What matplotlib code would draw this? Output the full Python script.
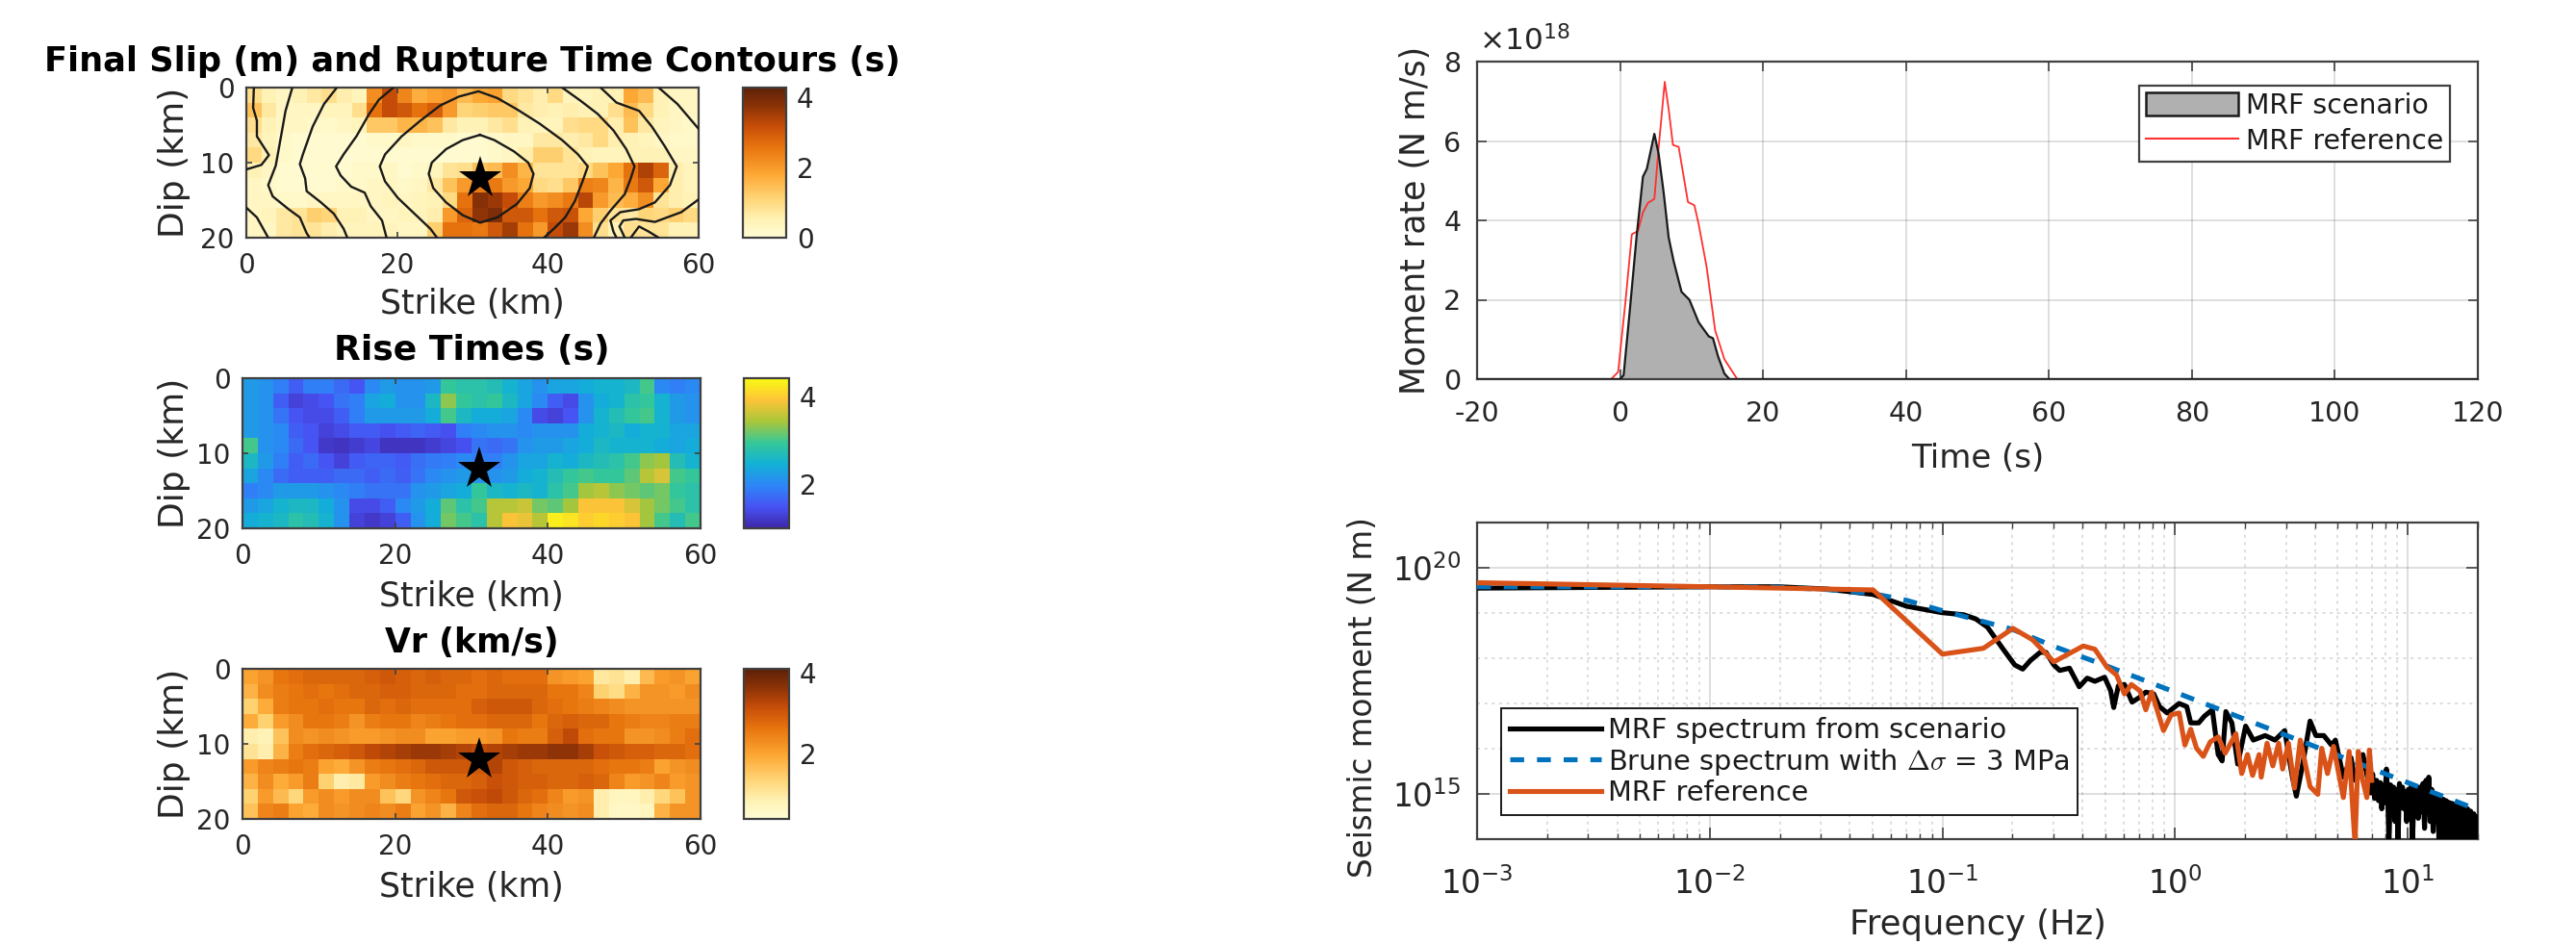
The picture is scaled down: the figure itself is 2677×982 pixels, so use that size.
import numpy as np
import matplotlib
matplotlib.use('Agg')
import matplotlib.pyplot as plt
from matplotlib.colors import LinearSegmentedColormap
from matplotlib.lines import Line2D
from matplotlib.patches import Patch
from matplotlib.ticker import NullFormatter

W, H = 2677, 982

# slip in m, one row per 2 km of dip, one column per 2 km of strike
slip = [
    [0.9, 0.5, 0.3, 0.5, 0.7, 0.9, 0.6, 0.4, 2.2, 3.2, 2.3, 1.7, 1.9, 2.0, 1.5, 1.8, 1.9, 1.0, 0.8, 0.6, 1.0, 0.4, 0.4, 0.5, 0.5, 1.8, 1.5, 0.5, 0.3, 0.3],
    [1.4, 0.7, 0.3, 0.3, 0.3, 0.4, 0.4, 0.9, 2.6, 3.2, 3.0, 2.6, 2.9, 2.0, 1.1, 1.2, 1.3, 1.3, 0.7, 0.6, 0.5, 0.6, 0.5, 0.5, 0.9, 1.5, 1.0, 0.5, 0.3, 0.3],
    [0.9, 0.5, 0.3, 0.3, 0.2, 0.2, 0.3, 0.4, 1.3, 1.3, 1.6, 1.6, 1.4, 0.7, 0.5, 0.5, 0.7, 0.9, 0.5, 0.4, 0.4, 0.9, 1.0, 1.0, 0.6, 1.4, 0.7, 0.4, 0.3, 0.2],
    [0.7, 0.4, 0.2, 0.1, 0.1, 0.1, 0.1, 0.1, 0.2, 0.2, 0.3, 0.2, 0.2, 0.2, 0.1, 0.1, 0.2, 0.3, 0.3, 0.7, 0.7, 0.6, 0.7, 1.0, 0.6, 0.5, 0.4, 0.3, 0.2, 0.2],
    [1.0, 0.5, 0.2, 0.1, 0.1, 0.1, 0.1, 0.1, 0.1, 0.1, 0.1, 0.1, 0.1, 0.1, 0.1, 0.1, 0.2, 0.3, 0.6, 1.2, 1.2, 0.8, 0.5, 0.4, 0.4, 0.5, 0.5, 0.5, 0.3, 0.3],
    [0.5, 0.3, 0.1, 0.1, 0.1, 0.1, 0.1, 0.2, 0.2, 0.3, 0.1, 0.2, 0.4, 0.8, 0.9, 1.4, 1.5, 2.2, 1.6, 0.8, 0.8, 0.8, 1.0, 1.4, 1.8, 2.6, 3.4, 2.8, 0.6, 0.4],
    [0.3, 0.2, 0.1, 0.1, 0.1, 0.1, 0.2, 0.2, 0.3, 0.3, 0.2, 0.3, 0.7, 1.4, 2.0, 2.5, 2.5, 2.0, 1.8, 1.0, 0.9, 1.3, 2.4, 2.3, 1.6, 2.5, 3.0, 1.8, 0.6, 0.4],
    [0.3, 0.3, 0.2, 0.2, 0.3, 0.3, 0.3, 0.3, 0.3, 0.4, 0.3, 0.4, 0.5, 1.0, 2.6, 3.8, 3.6, 3.2, 2.4, 2.0, 2.2, 2.5, 3.3, 2.0, 1.5, 1.7, 2.2, 0.8, 0.6, 0.5],
    [0.3, 0.4, 0.7, 0.8, 1.2, 1.1, 0.5, 0.5, 0.3, 0.3, 0.4, 0.4, 0.6, 2.0, 2.8, 3.7, 3.9, 3.0, 3.0, 2.6, 3.0, 3.1, 1.8, 1.2, 0.8, 0.7, 1.1, 1.0, 1.2, 1.0],
    [0.3, 0.3, 0.7, 0.8, 0.8, 0.6, 0.4, 0.4, 0.4, 0.4, 0.3, 0.3, 1.2, 2.6, 2.6, 2.5, 3.0, 3.5, 2.6, 2.0, 3.2, 3.6, 2.2, 0.9, 0.5, 0.9, 0.8, 0.8, 0.5, 0.5],
]

rise = [
    [2.2, 2.1, 1.9, 1.6, 1.9, 1.9, 1.7, 1.5, 2.0, 2.2, 2.1, 2.1, 2.2, 2.9, 2.8, 2.8, 2.7, 2.5, 2.3, 2.1, 2.3, 2.3, 2.4, 2.5, 2.5, 2.6, 3.0, 2.0, 1.9, 2.0],
    [2.2, 2.1, 1.6, 1.3, 1.4, 1.5, 1.8, 1.9, 2.3, 2.4, 2.1, 2.1, 2.6, 3.3, 2.9, 2.8, 2.9, 2.6, 2.3, 2.0, 1.6, 1.4, 2.1, 2.4, 2.5, 2.8, 2.9, 2.5, 2.2, 2.1],
    [2.2, 2.1, 1.8, 1.5, 1.4, 1.4, 1.6, 1.9, 2.2, 2.2, 2.2, 2.2, 2.4, 3.0, 2.6, 2.4, 2.4, 2.3, 2.0, 1.4, 1.3, 1.5, 2.1, 2.5, 2.7, 2.9, 3.0, 2.5, 2.2, 2.1],
    [2.2, 2.1, 2.0, 1.6, 1.5, 1.3, 1.4, 1.55, 1.55, 1.45, 1.55, 1.65, 1.55, 1.45, 1.9, 2.0, 2.1, 2.1, 2.0, 2.1, 2.1, 2.1, 2.4, 2.5, 2.6, 2.4, 2.5, 2.5, 2.3, 2.3],
    [3.0, 2.1, 2.0, 1.7, 1.5, 1.2, 1.15, 1.25, 1.35, 1.15, 1.15, 1.15, 1.25, 1.35, 1.45, 1.8, 1.7, 1.8, 2.1, 2.2, 2.2, 2.3, 2.4, 2.6, 2.5, 2.5, 2.5, 2.4, 2.3, 2.4],
    [2.6, 2.2, 1.9, 1.6, 1.7, 1.5, 1.3, 1.55, 1.65, 1.65, 1.55, 1.75, 1.85, 1.9, 2.0, 1.9, 1.9, 2.1, 2.3, 2.3, 2.5, 2.4, 2.6, 2.7, 2.8, 3.0, 3.3, 3.4, 2.7, 2.5],
    [2.3, 2.0, 1.7, 1.6, 1.6, 1.6, 1.7, 1.7, 1.6, 1.7, 1.6, 1.8, 2.0, 2.1, 2.2, 2.1, 2.1, 2.2, 2.4, 2.5, 2.7, 2.9, 3.0, 2.9, 2.9, 3.1, 3.5, 3.7, 3.0, 2.9],
    [1.9, 2.0, 2.2, 2.2, 2.2, 2.1, 2.0, 1.9, 1.8, 1.8, 1.8, 2.1, 2.2, 2.3, 2.4, 2.9, 2.6, 2.5, 2.6, 2.5, 2.8, 3.0, 3.4, 3.5, 3.3, 3.2, 3.1, 3.2, 2.9, 2.8],
    [2.2, 2.3, 2.5, 2.6, 2.6, 2.4, 2.1, 1.4, 1.4, 1.6, 2.0, 2.2, 2.4, 3.1, 2.8, 3.0, 3.5, 3.5, 3.6, 3.2, 3.1, 3.4, 3.9, 3.9, 3.9, 3.7, 3.4, 3.2, 3.0, 2.8],
    [2.4, 2.5, 2.6, 2.8, 2.7, 2.5, 2.1, 1.3, 1.2, 1.3, 1.6, 2.1, 2.4, 3.2, 3.0, 2.8, 3.5, 3.9, 3.8, 3.5, 4.3, 4.2, 4.0, 4.1, 4.0, 3.9, 3.4, 3.0, 2.7, 3.0],
]

vr = [
    [2.0, 2.2, 2.6, 2.7, 2.8, 2.8, 2.8, 2.8, 2.9, 3.0, 2.9, 2.8, 2.9, 2.8, 2.8, 2.7, 2.8, 2.7, 2.7, 2.7, 2.2, 2.1, 2.0, 1.0, 1.1, 0.9, 1.7, 2.1, 2.2, 2.0],
    [1.8, 2.3, 2.5, 2.6, 2.7, 2.6, 2.7, 2.8, 2.8, 2.9, 2.9, 2.8, 2.8, 2.8, 2.7, 2.7, 2.8, 2.8, 2.8, 2.8, 2.6, 2.6, 2.4, 1.4, 1.2, 1.8, 2.2, 2.2, 2.1, 2.3],
    [1.4, 1.9, 2.5, 2.6, 2.6, 2.7, 2.6, 2.6, 2.8, 2.7, 2.8, 2.7, 2.7, 2.7, 2.7, 2.9, 3.0, 3.0, 3.0, 2.8, 2.7, 2.6, 2.5, 2.4, 2.3, 2.2, 2.2, 2.2, 2.2, 2.2],
    [1.9, 1.4, 2.1, 2.3, 2.6, 2.6, 2.5, 2.2, 2.5, 2.6, 2.6, 2.4, 2.5, 2.6, 2.7, 2.7, 2.8, 2.8, 2.8, 2.6, 2.8, 2.9, 2.8, 2.8, 2.6, 2.5, 2.4, 2.4, 2.5, 2.5],
    [0.9, 0.8, 1.6, 2.3, 2.2, 2.3, 2.2, 2.1, 2.1, 2.2, 2.3, 2.3, 2.0, 2.0, 2.1, 2.1, 2.2, 2.6, 2.5, 2.5, 2.9, 3.2, 2.7, 2.6, 2.6, 2.2, 2.2, 2.3, 2.5, 2.7],
    [1.1, 0.9, 1.8, 2.5, 2.7, 2.8, 2.9, 3.0, 3.2, 3.3, 3.4, 3.5, 3.5, 3.4, 3.3, 3.2, 3.3, 3.4, 3.5, 3.5, 3.6, 3.6, 3.4, 3.1, 3.0, 2.9, 2.9, 2.8, 2.8, 2.7],
    [2.1, 2.4, 2.5, 2.6, 2.5, 2.0, 1.9, 2.2, 2.5, 2.6, 2.7, 2.8, 3.0, 3.0, 3.0, 3.0, 3.3, 3.0, 2.9, 2.8, 2.8, 2.8, 2.8, 2.7, 2.6, 2.6, 2.5, 2.0, 2.2, 2.3],
    [1.8, 2.3, 1.9, 2.1, 2.5, 1.4, 0.9, 1.0, 2.1, 2.3, 2.5, 2.6, 2.7, 2.8, 2.8, 2.9, 3.1, 3.0, 2.9, 2.9, 2.8, 2.8, 2.9, 2.8, 2.4, 2.1, 2.2, 2.4, 2.1, 2.2],
    [1.4, 2.1, 1.7, 1.3, 2.1, 2.3, 2.1, 2.3, 2.3, 1.6, 1.3, 2.2, 2.4, 2.6, 3.0, 3.1, 3.2, 3.0, 2.8, 2.7, 2.4, 2.1, 2.2, 0.9, 0.7, 0.7, 0.9, 1.3, 1.6, 2.2],
    [1.6, 2.4, 2.5, 2.0, 1.9, 2.3, 2.2, 2.3, 2.4, 2.3, 2.5, 2.0, 2.2, 1.8, 2.4, 2.7, 2.8, 2.8, 2.6, 2.4, 2.3, 2.2, 2.3, 0.9, 0.6, 0.6, 0.7, 1.8, 2.2, 2.2],
]

# rupture time contours, (strike km, dip km)
contours = [
    ([31.0, 28.7, 26.5, 24.6, 24.2, 24.8, 26.5, 28.7, 31.0, 33.3, 35.9, 37.6, 38.1, 37.4, 35.5, 32.9, 31.0],
     [6.3, 7.0, 8.2, 10.0, 11.5, 13.4, 15.3, 17.0, 18.0, 17.3, 15.5, 13.4, 11.5, 10.0, 8.5, 7.0, 6.3]),
    ([25.3, 24.4, 22.3, 20.1, 18.4, 17.7, 18.4, 20.6, 23.1, 25.7, 28.2, 30.8, 33.3, 35.9, 38.9, 41.9, 44.0, 45.3, 44.6, 43.6, 42.3, 40.8, 39.5],
     [20.0, 18.8, 16.8, 14.7, 12.5, 10.5, 8.9, 6.5, 4.4, 2.4, 1.2, 0.5, 1.4, 2.9, 4.8, 7.0, 8.9, 10.5, 12.5, 15.1, 17.3, 18.8, 20.0]),
    ([19.5, 17.6, 16.3, 14.6, 12.9, 11.9, 12.5, 13.9, 15.7, 16.5, 18.0, 18.6],
     [0.0, 1.6, 3.5, 6.5, 8.9, 10.5, 11.7, 13.2, 14.0, 15.8, 17.7, 20.0]),
    ([41.9, 44.4, 46.6, 48.7, 50.4, 51.5, 51.0, 50.2, 48.3, 47.0, 46.1],
     [0.0, 1.8, 3.5, 5.7, 8.2, 10.5, 12.1, 14.2, 16.4, 18.1, 20.0]),
    ([12.0, 10.3, 8.8, 7.5, 7.1, 7.8, 8.0, 9.9, 11.6, 12.9, 13.4],
     [0.0, 2.2, 5.2, 8.9, 10.2, 12.1, 13.8, 15.3, 16.8, 18.8, 20.0]),
    ([6.1, 5.2, 4.6, 3.9, 2.9, 3.5, 5.6, 7.1, 8.0, 8.4],
     [0.0, 3.1, 6.5, 10.4, 13.0, 14.5, 16.2, 17.3, 19.4, 20.0]),
    ([1.0, 0.9, 1.4, 1.4, 3.0, 2.0, 0.0],
     [0.0, 2.7, 4.4, 6.5, 9.0, 10.3, 10.9]),
    ([0.0, 1.4, 2.9],
     [16.0, 17.3, 20.0]),
    ([47.0, 49.1, 52.1, 53.8, 55.5, 57.1, 56.2, 54.2, 52.1, 49.6, 48.3, 48.7, 49.1],
     [0.0, 2.0, 3.1, 5.2, 7.8, 10.5, 13.0, 15.3, 16.2, 16.6, 17.7, 19.2, 20.0]),
    ([54.7, 57.2, 60.0],
     [0.0, 2.2, 5.5]),
    ([60.0, 57.7, 54.2, 51.7, 50.0, 49.5, 50.2],
     [14.9, 16.6, 17.9, 17.5, 17.7, 18.5, 20.0]),
    ([51.0, 52.1, 53.4, 54.7],
     [20.0, 18.5, 19.2, 20.0]),
]

hypo_strike = 31
hypo_dip = 12

# moment rate, in 1e18 N m/s
t_scenario = [-20, 0, 0.5, 1.4, 2.3, 3.2, 3.75, 4.8, 5.4, 6.1, 6.8, 7.5, 8.6, 9.7, 11, 12.4, 13, 13.7, 14.6, 15.3, 120]
mrf_scenario = [0, 0, 0.1, 1.8, 3.57, 5.1, 5.3, 6.18, 5.67, 4.7, 3.57, 2.97, 2.2, 2.0, 1.43, 1.08, 1.03, 0.58, 0.14, 0, 0]
t_reference = [-1.25, -0.27, 0.76, 1.65, 2.5, 3.2, 3.9, 4.8, 5.4, 6.25, 6.8, 7.4, 8.2, 9.5, 10.4, 11, 12.1, 13.3, 14.6, 16.4, 18.4]
mrf_reference = [0, 0.18, 1.96, 3.65, 3.73, 4.2, 4.44, 4.54, 5.83, 7.49, 6.8, 5.9, 5.85, 4.46, 4.38, 3.9, 2.84, 1.23, 0.5, 0, 0]

# spectra, log10 of frequency and log10 of moment
logf_brune = [-3, -2, -1.7, -1.5, -1.3, -1.154, -1, -0.7, -0.52, -0.3, 0, 0.3, 0.7, 1, 1.3]
logm_brune = [19.58, 19.58, 19.57, 19.52, 19.43, 19.28, 19.05, 18.64, 18.26, 17.84, 17.25, 16.65, 15.85, 15.25, 14.65]

logf_scen_low = [-3, -2, -1.703, -1.497, -1.298, -1.154, -1.005, -0.908, -0.857, -0.807, -0.739, -0.689, -0.655, -0.622, -0.58, -0.555,
                 -0.521, -0.496, -0.454, -0.412, -0.378, -0.345, -0.303, -0.277, -0.264, -0.244, -0.218, -0.185, -0.151, -0.126, -0.092,
                 -0.067, -0.034, 0.017, 0.05, 0.067, 0.101, 0.126, 0.16, 0.185, 0.202, 0.218, 0.244, 0.269, 0.303, 0.336, 0.387, 0.429,
                 0.471, 0.504, 0.521, 0.546, 0.58, 0.605, 0.639, 0.672, 0.689, 0.723, 0.756, 0.773, 0.807, 0.84]
logm_scen_low = [19.55, 19.58, 19.58, 19.53, 19.41, 19.15, 19.01, 18.96, 18.87, 18.69, 18.2, 17.85, 17.76, 17.95, 18.13, 18.13,
                 17.85, 17.73, 17.78, 17.37, 17.56, 17.49, 17.58, 17.28, 16.91, 17.39, 17.42, 17.03, 17.14, 17.25, 17.21,
                 16.93, 16.79, 17.0, 16.93, 16.57, 16.57, 16.72, 16.86, 15.87, 15.73, 16.82, 16.57, 15.66, 16.5, 16.19, 16.29, 16.19,
                 16.4, 15.37, 14.95, 15.59, 16.61, 16.29, 16.29, 16.08, 16.19, 15.37, 15.8, 15.3, 15.87, 15.02]
logf_scen_mid = [0.849, 0.857, 0.866, 0.874, 0.882, 0.888, 0.894, 0.901, 0.908, 0.914, 0.919, 0.926, 0.933, 0.939, 0.945, 0.952,
                 0.958, 0.964, 0.97, 0.977, 0.983, 0.989, 0.995, 1.002, 1.008, 1.014, 1.02, 1.027, 1.034, 1.04, 1.045, 1.052,
                 1.059, 1.065, 1.072, 1.078, 1.084, 1.09, 1.096, 1.103, 1.109, 1.116, 1.123]
logm_scen_mid = [15.44, 14.9, 15.3, 14.85, 15.25, 14.67, 15.2, 14.8, 15.55, 14.9, 13.9, 15.2, 14.7, 15.15, 14.39, 15.1,
                 13.9, 15.23, 14.7, 15.15, 14.67, 15.05, 14.39, 15.1, 14.7, 15.16, 13.9, 15.1, 14.6, 15.09, 14.46, 15.15,
                 14.6, 15.23, 14.24, 15.3, 14.7, 15.37, 14.39, 15.1, 14.17, 15.0, 14.5]
logf_scen_high = [1.129, 1.134, 1.14, 1.146, 1.153, 1.16, 1.165, 1.171, 1.178, 1.185, 1.191, 1.197, 1.203, 1.21, 1.217,
                  1.224, 1.23, 1.237, 1.243, 1.25, 1.257, 1.264, 1.27, 1.277, 1.284, 1.291, 1.297]
logm_scen_high = [14.95, 13.9, 14.9, 13.9, 14.88, 13.9, 14.85, 13.9, 14.81, 13.9, 14.79, 13.9, 14.77, 13.9, 14.75,
                  13.9, 14.74, 13.9, 14.7, 13.9, 14.67, 13.9, 14.62, 13.9, 14.56, 13.9, 14.49]

logf_ref = [-3, -2, -1.497, -1.298, -1, -0.824, -0.697, -0.613, -0.521, -0.395, -0.345, -0.294, -0.252, -0.218, -0.188, -0.151,
            -0.126, -0.101, -0.05, -0.017, 0.017, 0.042, 0.067, 0.092, 0.121, 0.151, 0.185, 0.215, 0.261, 0.286, 0.311, 0.333,
            0.361, 0.37, 0.395, 0.42, 0.445, 0.462, 0.487, 0.513, 0.538, 0.58, 0.613, 0.63, 0.655, 0.681, 0.706, 0.723, 0.748,
            0.773, 0.787, 0.803, 0.824, 0.835, 0.845]
logm_ref = [19.67, 19.58, 19.53, 19.51, 18.09, 18.22, 18.66, 18.41, 17.92, 18.27, 18.2, 17.81, 17.63, 17.21, 17.42, 17.28,
            16.86, 17.25, 16.4, 16.75, 16.79, 16.08, 16.43, 16.01, 15.83, 16.15, 16.26, 15.9, 16.33, 15.45, 15.87, 15.41,
            15.87, 15.37, 16.12, 15.62, 16.12, 15.55, 16.12, 15.13, 16.19, 15.16, 14.99, 16.01, 15.45, 16.05, 15.37, 14.92, 15.94,
            13.9, 15.94, 15.37, 14.92, 15.97, 15.3]

parula_colors = [(0.2422, 0.1504, 0.6603), (0.2810, 0.3228, 0.9579), (0.1786, 0.5289, 0.9682), (0.0689, 0.6948, 0.8394),
                 (0.2161, 0.7843, 0.5923), (0.6720, 0.7793, 0.2227), (0.9970, 0.7659, 0.2199), (0.9769, 0.9839, 0.0805)]
parula = LinearSegmentedColormap.from_list('parula', parula_colors)
hot_r = LinearSegmentedColormap.from_list('slipcmap', [(0, '#FFFCD5'), (0.12, '#FFF2B5'), (0.25, '#FFD77A'), (0.42, '#FDA835'),
                                                       (0.6, '#E8750F'), (0.75, '#C44C08'), (0.88, '#8A3207'), (1, '#5C2108')])

TXT = '#262626'
BOX = '#404040'
plt.rcParams['font.family'] = 'DejaVu Sans'
plt.rcParams['mathtext.fontset'] = 'dejavusans'
plt.rcParams['axes.edgecolor'] = BOX
plt.rcParams['axes.linewidth'] = 1.6
plt.rcParams['axes.unicode_minus'] = False


def px_axes(fig, left, top, right, bottom):
    return fig.add_axes([left / W, 1 - bottom / H, (right - left) / W, (bottom - top) / H])


def heat_panel(fig, box, cbox, data, cmap, vmin, vmax, cticks, title, title_size, pad, xlab_y):
    ax = px_axes(fig, *box)
    im = ax.imshow(np.array(data), cmap=cmap, vmin=vmin, vmax=vmax, extent=(0, 60, 20, 0),
                   aspect='auto', interpolation='nearest')
    ax.plot(hypo_strike, hypo_dip, marker='*', color='k', ms=33, mew=0, zorder=5)
    ax.set_xticks([0, 20, 40, 60])
    ax.set_yticks([0, 10, 20])
    ax.tick_params(direction='in', top=True, right=True, length=4, width=1.2, labelsize=20,
                   labelcolor=TXT, color=BOX)
    ax.tick_params(axis='x', pad=11)
    ax.tick_params(axis='y', pad=9)
    ax.set_title(title, fontsize=title_size, fontweight='bold', color='k', pad=pad)
    ax.set_xlabel('Strike (km)', fontsize=25, color=TXT, va='center')
    ax.xaxis.set_label_coords(0.5, (box[3] - xlab_y) / (box[3] - box[1]))
    ax.set_ylabel('Dip (km)', fontsize=26, color=TXT, va='center')
    ax.yaxis.set_label_coords((181 - box[0]) / (box[2] - box[0]), 0.5)
    cax = px_axes(fig, *cbox)
    cb = fig.colorbar(im, cax=cax, ticks=cticks)
    cb.ax.tick_params(length=0, labelsize=20, labelcolor=TXT, pad=8)
    cb.outline.set_edgecolor(BOX)
    cb.outline.set_linewidth(1.6)
    return ax


fig = plt.figure(figsize=(W / 100, H / 100), dpi=100)

ax1 = heat_panel(fig, (256, 91, 726, 247), (772, 91, 817, 247), slip, hot_r, 0, 4.27, [0, 2, 4],
                 'Final Slip (m) and Rupture Time Contours (s)', 25.3, 12, 316)
for xs, ys in contours:
    ax1.plot(xs, ys, color='#1a1a1a', lw=1.7, solid_joinstyle='round', zorder=4)
ax1.set_xlim(0, 60)
ax1.set_ylim(20, 0)

heat_panel(fig, (252, 393, 728, 549), (773, 393, 820, 549), rise, parula, 0.985, 4.41, [2, 4], 'Rise Times (s)', 26, 14, 620)
heat_panel(fig, (252, 695, 728, 851), (773, 695, 820, 851), vr, hot_r, 0.39, 4.09, [2, 4], 'Vr (km/s)', 25, 12, 922)

# moment rate function
ax4 = px_axes(fig, 1535, 64, 2575, 394)
ax4.fill_between(t_scenario, mrf_scenario, 0, facecolor='#B0B0B0', edgecolor='none', zorder=2)
ax4.plot(t_reference, mrf_reference, color='#FF3030', lw=1.3, zorder=3)
ax4.plot(t_scenario, mrf_scenario, color='#1a1a1a', lw=1.6, zorder=4)
ax4.set_xlim(-20, 120)
ax4.set_ylim(0, 8)
ax4.set_xticks(range(-20, 121, 20))
ax4.set_yticks([0, 2, 4, 6, 8])
ax4.grid(True, color='#262626', alpha=0.15, lw=1.4)
ax4.set_axisbelow(True)
ax4.tick_params(direction='in', top=True, right=True, length=7, width=1.2, labelsize=20.5,
                labelcolor=TXT, color=BOX)
ax4.tick_params(axis='x', pad=16)
ax4.tick_params(axis='y', pad=12)
ax4.set_xlabel('Time (s)', fontsize=24.5, color=TXT, va='center')
ax4.xaxis.set_label_coords(0.5, (394 - 476) / 330)
ax4.set_ylabel('Moment rate (N m/s)', fontsize=25, color=TXT, va='center')
ax4.yaxis.set_label_coords((1471 - 1535) / 1040, 0.5)
ax4.text(1537 / W, 1 - 58 / H, r'$\times 10^{18}$', transform=fig.transFigure, fontsize=22.5, color=TXT, va='bottom')
leg4 = ax4.legend([Patch(facecolor='#B0B0B0', edgecolor='#1a1a1a', lw=1.8), Line2D([0], [0], color='#FF3030', lw=1.5)],
                  ['MRF scenario', 'MRF reference'], loc='upper left',
                  bbox_to_anchor=((2223 - 1535) / 1040, (394 - 89) / 330), fontsize=20.4, fancybox=False, framealpha=1,
                  edgecolor=BOX, borderaxespad=0, handlelength=3.4, handleheight=0.93, handletextpad=0.25,
                  borderpad=0.25, labelspacing=0.3, labelcolor='#1a1a1a')
leg4.get_frame().set_linewidth(1.6)

# spectra
logf_scen = np.array(logf_scen_low + logf_scen_mid + logf_scen_high)
logm_scen = np.array(logm_scen_low + logm_scen_mid + logm_scen_high)
ax5 = px_axes(fig, 1535, 543, 2575, 872)
ax5.plot(10 ** logf_scen, 10 ** logm_scen, color='k', lw=3.7, label='MRF spectrum from scenario', zorder=3)
ax5.plot(10 ** np.array(logf_brune), 10 ** np.array(logm_brune), color='#0072BD', lw=3.7, ls=(0, (2.8, 2.6)),
         label=r'Brune spectrum with $\Delta\sigma$ = 3 MPa', zorder=4)
ax5.plot(10 ** np.array(logf_ref), 10 ** np.array(logm_ref), color='#D95319', lw=3.7, label='MRF reference', zorder=5)
ax5.set_xscale('log')
ax5.set_yscale('log')
ax5.set_xlim(1e-3, 20)
ax5.set_ylim(1e14, 1e21)
ax5.set_xticks([1e-3, 1e-2, 1e-1, 1e0, 1e1])
ax5.set_xticks([m * 10.0 ** e for e in range(-3, 2) for m in range(2, 10) if m * 10.0 ** e <= 20], minor=True)
ax5.set_yticks([1e15, 1e20])
ax5.set_yticks([1e14, 1e16, 1e17, 1e18, 1e19, 1e21], minor=True)
ax5.xaxis.set_minor_formatter(NullFormatter())
ax5.yaxis.set_minor_formatter(NullFormatter())
ax5.grid(True, which='major', color='#262626', alpha=0.15, lw=1.4)
ax5.grid(True, which='minor', color='#262626', alpha=0.2, lw=1.1, ls=(0, (2, 3)))
ax5.set_axisbelow(True)
ax5.tick_params(which='major', direction='in', top=True, right=True, length=9, width=1.2, labelsize=23.5,
                labelcolor=TXT, color=BOX)
ax5.tick_params(axis='x', which='major', pad=21)
ax5.tick_params(axis='y', which='major', pad=12)
ax5.tick_params(which='minor', direction='in', top=True, right=False, left=False, length=4, width=1, color=BOX)
ax5.set_xlabel('Frequency (Hz)', fontsize=25.5, color=TXT, va='center')
ax5.xaxis.set_label_coords(0.5, (872 - 961) / 329)
ax5.set_ylabel('Seismic moment (N m)', fontsize=23.5, color=TXT, va='center')
ax5.yaxis.set_label_coords((1416 - 1535) / 1040, (872 - 725) / 329)
leg5 = ax5.legend(loc='upper left', bbox_to_anchor=((1560 - 1535) / 1040, (872 - 736) / 329), fontsize=20.7,
                  fancybox=False, framealpha=1, edgecolor='#1a1a1a', borderaxespad=0, handlelength=3.3,
                  handletextpad=0.25, borderpad=0.3, labelspacing=0.1, labelcolor='#1a1a1a')
leg5.get_frame().set_linewidth(1.4)
leg5.set_zorder(10)
for t in leg5.get_texts():
    t.set_math_fontfamily('cm')

fig.savefig('out.png', dpi=100)
